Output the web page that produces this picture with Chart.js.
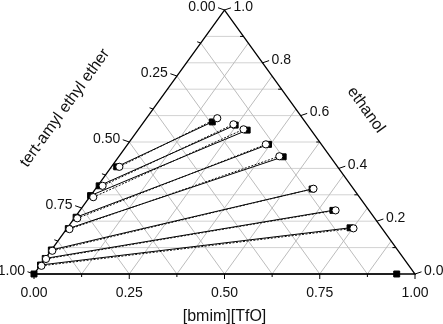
<!DOCTYPE html>
<html>
<head>
<meta charset="utf-8">
<script src="https://cdn.jsdelivr.net/npm/chart.js@4.4.1/dist/chart.umd.min.js"></script>
<style>
  html, body { margin: 0; padding: 0; background: #fff; }
  #wrap { width: 443px; height: 324px; }
</style>
</head>
<body>
<div id="wrap"><canvas id="chart" width="443" height="324"></canvas></div>
<script>
// experimental tie lines (TAEE-rich phase -> IL-rich phase), mole fractions
const expOrgEthanol = [0.000, 0.034, 0.059, 0.091, 0.172, 0.215, 0.297, 0.334, 0.406];
const expOrgBmim    = [0.000, 0.000, 0.000, 0.000, 0.004, 0.003, 0.000, 0.004, 0.014];
const expILEthanol  = [0.000, 0.175, 0.241, 0.322, 0.444, 0.491, 0.545, 0.564, 0.576];
const expILBmim     = [0.952, 0.742, 0.664, 0.569, 0.432, 0.370, 0.287, 0.246, 0.180];

// calculated tie lines
const calcOrgEthanol = [0.031, 0.057, 0.088, 0.170, 0.211, 0.291, 0.334, 0.406];
const calcOrgBmim    = [0.004, 0.003, 0.004, 0.008, 0.008, 0.010, 0.013, 0.021];
const calcILEthanol  = [0.173, 0.241, 0.323, 0.446, 0.491, 0.548, 0.567, 0.590];
const calcILBmim     = [0.752, 0.671, 0.572, 0.421, 0.363, 0.276, 0.240, 0.186];

const bmimTicks = [0.00, 0.25, 0.50, 0.75, 1.00];
const taeeTicks = [0.00, 0.25, 0.50, 0.75, 1.00];
const ethanolTicks = [0.0, 0.2, 0.4, 0.6, 0.8, 1.0];
const diagGrid = [0.125, 0.25, 0.375, 0.5, 0.625, 0.75, 0.875];
const ethanolGrid = [0.1, 0.2, 0.3, 0.4, 0.5, 0.6, 0.7, 0.8, 0.9];

const tickFont = "14px 'Liberation Sans', Arial, sans-serif";
const titleFont = "16px 'Liberation Sans', Arial, sans-serif";

// ternary -> cartesian (x along base, y = ethanol)
function pt(bmim, ethanol) {
  return { x: bmim + ethanol / 2, y: ethanol };
}

const datasets = [];
calcOrgEthanol.forEach((e, i) => {
  datasets.push({
    data: [pt(calcOrgBmim[i], e), pt(calcILBmim[i], calcILEthanol[i])],
    showLine: true,
    clip: false,
    borderColor: "#111",
    borderWidth: 1,
    borderDash: [2, 1.5],
    pointStyle: "circle",
    pointRadius: 3.6,
    pointBackgroundColor: "#fff",
    pointBorderColor: "#000",
    pointBorderWidth: 1
  });
});
expOrgEthanol.forEach((e, i) => {
  datasets.push({
    data: [pt(expOrgBmim[i], e), pt(expILBmim[i], expILEthanol[i])],
    showLine: true,
    clip: false,
    borderColor: "#000",
    borderWidth: 1,
    pointStyle: "rect",
    pointRadius: 4.2,
    pointBackgroundColor: "#000",
    pointBorderColor: "#000",
    pointBorderWidth: 1
  });
});

const ternaryFrame = {
  id: "ternaryFrame",
  beforeDatasetsDraw(chart) {
    const { ctx, scales: { x, y } } = chart;
    const P = (b, e) => [x.getPixelForValue(b + e / 2), y.getPixelForValue(e)];
    const seg = (a, c, color, w) => {
      ctx.beginPath();
      ctx.moveTo(a[0], a[1]);
      ctx.lineTo(c[0], c[1]);
      ctx.strokeStyle = color;
      ctx.lineWidth = w;
      ctx.stroke();
    };
    ctx.save();
    ethanolGrid.forEach((e) => seg(P(0, e), P(1 - e, e), "#d2d2d2", 1));
    diagGrid.forEach((f) => {
      seg(P(f, 0), P(f, 1 - f), "#bcbcbc", 1);
      seg(P(f, 0), P(0, f), "#bcbcbc", 1);
    });

    // frame
    const A = P(0, 0), B = P(1, 0), C = P(0, 1);
    ctx.beginPath();
    ctx.moveTo(A[0], A[1]);
    ctx.lineTo(B[0], B[1]);
    ctx.lineTo(C[0], C[1]);
    ctx.closePath();
    ctx.strokeStyle = "#000";
    ctx.lineWidth = 1.3;
    ctx.stroke();

    // bottom ticks
    for (let i = 0; i <= 8; i++) {
      const b = i / 8;
      const p = P(b, 0);
      seg(p, [p[0], p[1] + (i % 2 ? 3 : 5)], "#000", 1);
    }
    // left (TAEE) ticks
    for (let i = 0; i <= 8; i++) {
      const t = i / 8;
      const p = P(0, 1 - t);
      const len = i % 2 ? 3.5 : 6.5;
      seg(p, [p[0] - len, p[1] - len * 0.35], "#000", 1);
    }
    // right (ethanol) ticks
    for (let i = 0; i <= 10; i++) {
      const e = i / 10;
      const p = P(1 - e, e);
      if (i % 2) {
        seg(p, [p[0] - 3.5, p[1]], "#000", 1);
      } else {
        seg(p, [p[0] + 6.5, p[1] - 2.2], "#000", 1);
      }
    }
    ctx.restore();
  },
  afterDraw(chart) {
    const { ctx, scales: { x, y } } = chart;
    const P = (b, e) => [x.getPixelForValue(b + e / 2), y.getPixelForValue(e)];
    ctx.save();
    ctx.fillStyle = "#111";
    ctx.font = tickFont;
    ctx.textBaseline = "middle";

    ctx.textAlign = "center";
    bmimTicks.forEach((b) => {
      const p = P(b, 0);
      ctx.fillText(b.toFixed(2), p[0], p[1] + 19);
    });

    ctx.textAlign = "right";
    taeeTicks.forEach((t) => {
      const p = P(0, 1 - t);
      ctx.fillText(t.toFixed(2), p[0] - 9, p[1] - 3);
    });

    ctx.textAlign = "left";
    ethanolTicks.forEach((e) => {
      const p = P(1 - e, e);
      ctx.fillText(e.toFixed(1), p[0] + 9, p[1] - 3);
    });

    // axis titles
    ctx.font = titleFont;
    ctx.textAlign = "center";
    const A = P(0, 0), B = P(1, 0), C = P(0, 1);
    ctx.fillText("[bmim][TfO]", (A[0] + B[0]) / 2, A[1] + 43);

    const leftAng = Math.atan2(A[1] - C[1], C[0] - A[0]);
    ctx.save();
    ctx.translate(65, 108);
    ctx.rotate(-leftAng);
    ctx.fillText("tert-amyl ethyl ether", 0, 0);
    ctx.restore();

    const rightAng = Math.atan2(B[1] - C[1], B[0] - C[0]);
    ctx.save();
    ctx.translate(366, 110);
    ctx.rotate(rightAng);
    ctx.fillText("ethanol", 0, 0);
    ctx.restore();

    ctx.restore();
  }
};

new Chart(document.getElementById("chart"), {
  type: "scatter",
  data: { datasets },
  options: {
    responsive: false,
    devicePixelRatio: 1,
    animation: false,
    layout: { padding: { left: 34, right: 28, top: 10, bottom: 50 } },
    plugins: { legend: { display: false }, tooltip: { enabled: false } },
    scales: {
      x: { type: "linear", min: 0, max: 1, display: false },
      y: { type: "linear", min: 0, max: 1, display: false }
    }
  },
  plugins: [ternaryFrame]
});
</script>
</body>
</html>
